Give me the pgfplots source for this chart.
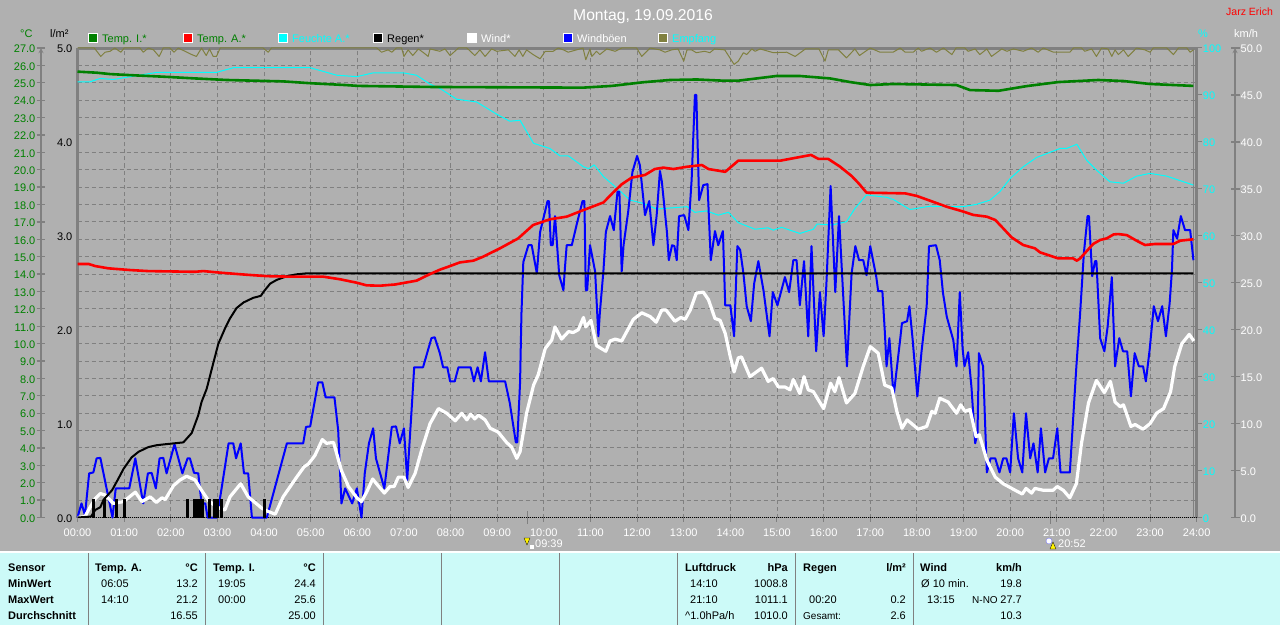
\documentclass[border=0pt]{standalone}
\usepackage{fontspec}
\setmainfont{Liberation Sans}
\usepackage{pgfplots}
\pgfplotsset{compat=1.18}

\definecolor{bg}{RGB}{176,176,176}
\definecolor{panel}{RGB}{204,250,248}
\definecolor{gridc}{RGB}{128,128,128}
\definecolor{tempi}{RGB}{0,128,0}
\definecolor{empf}{RGB}{128,128,64}
\definecolor{feuchte}{RGB}{0,255,255}

\newcommand{\fs}{\fontsize{11}{13}\selectfont}
\pgfplotsset{
  plotbox/.style={at={(77.5pt,107.5pt)},anchor=south west,scale only axis,
    width=1119.2pt,height=469.5pt,xmin=0,xmax=24,clip=false},
  series/.style={plotbox,hide axis},
  scalebar/.style={at={(#1pt,107.5pt)},anchor=south west,scale only axis,
    width=1pt,height=469.5pt,xmin=0,xmax=1,hide x axis,clip=false,
    axis line style={draw=gridc,line width=1.3pt},
    tick style={draw=gridc,line width=1.3pt},
    tick align=center,major tick length=9pt,minor tick length=0pt,
    /pgf/number format/assume math mode=true,
    /pgf/number format/fixed,/pgf/number format/fixed zerofill,/pgf/number format/precision=1,
    tick label style={font=\fs,inner sep=0pt}},
}

% px scope: origin top left of the image, y down
\newcommand{\tl}[4][black]{\node[anchor=mid west,inner sep=0pt,yshift=-1.5pt,text=#1,font=\fs] at (#2,#3) {#4};}
\newcommand{\tr}[4][black]{\node[anchor=mid east,inner sep=0pt,yshift=-1.5pt,text=#1,font=\fs] at (#2,#3) {#4};}
\newcommand{\bl}[3]{\node[anchor=mid west,inner sep=0pt,yshift=-1.5pt,font=\fs\bfseries] at (#1,#2) {#3};}
\newcommand{\br}[3]{\node[anchor=mid east,inner sep=0pt,yshift=-1.5pt,font=\fs\bfseries] at (#1,#2) {#3};}
\newcommand{\leg}[4]{\fill[#3,draw=white,line width=1pt] (#1,33.5) rectangle (#1+9,42.5);
  \node[anchor=mid west,inner sep=0pt,yshift=-1.5pt,text=#4,font=\fs] at (#1+14,38) {#2};}

\begin{document}
\begin{tikzpicture}
\path[use as bounding box,fill=bg] (0,0) rectangle (1280pt,625pt);

% grid, hour axis
\begin{axis}[plotbox,ymin=0,ymax=27,
  axis line style={draw=none},
  ytick={0,1,...,27},yticklabels={},
  ytick style={draw=none},
  xtick pos=bottom,
  xtick={0,1,...,24},
  xticklabels={00:00,01:00,02:00,03:00,04:00,05:00,06:00,07:00,08:00,09:00,10:00,11:00,12:00,13:00,14:00,15:00,16:00,17:00,18:00,19:00,20:00,21:00,22:00,23:00,24:00},
  xticklabel style={font=\fs,text=white,inner sep=0pt,yshift=-7pt},
  xtick style={draw=gridc,line width=1pt},
  major tick length=4pt,tick align=outside,
  grid=major,
  grid style={draw=gridc,line width=.9pt,dash pattern=on 4pt off 3pt},
  extra x ticks={9.65,20.87},extra x tick labels={},
  extra x tick style={grid=none,tick align=center,major tick length=13pt,
    tick style={draw=gridc,line width=2pt}},
]
\draw[gridc,line width=3pt] (rel axis cs:0,0) -- (rel axis cs:0,1);
\draw[gridc,line width=3pt] (rel axis cs:0,1) -- (rel axis cs:1,1);
\draw[gridc,line width=3pt] (rel axis cs:1,0) -- (rel axis cs:1,1);
\draw[gridc,line width=1pt] (rel axis cs:0.9972,0) -- (rel axis cs:0.9972,1);
\draw[black,line width=1pt,dash pattern=on 1pt off 1pt] (rel axis cs:0,0) -- (rel axis cs:1,0);
\end{axis}

% Empfang, Feuchte on the % scale
\begin{axis}[series,ymin=0,ymax=100]
\addplot[empf,line width=1pt,line join=round] coordinates {
(0,100)(.36,100)(.5,98.2)(.59,99.1)(.7,99.3)(.8,100)(.93,99.1)(1,100)(1.34,100)(1.41,99.1)(1.52,100)(1.63,99.6)(1.75,98.2)(1.84,100)
(1.98,100)(2.07,99.1)(2.16,100)(2.45,98.6)(2.55,98.2)(2.66,100)(2.76,98.4)(2.83,99.8)(2.91,98.2)(2.98,98.2)(3.06,100)(3.98,100)(4.09,99.1)(4.16,100)
(6.42,100)(6.52,99.1)(6.66,99.6)(6.74,99.1)(6.84,100)(6.95,100)(7,98.2)(7.09,99.6)(7.19,98.4)(7.31,99.8)(7.42,99)(7.52,98.2)
(7.56,99.8)(7.77,99.3)(7.88,99.8)(7.99,98.4)(8.17,100)(8.35,100)(8.52,98.4)(8.63,99.6)(8.74,98.2)(8.88,99.8)(8.99,99.3)(9.24,99.6)(9.38,98.2)(9.47,99.6)(9.55,98.2)(9.63,99.6)(9.77,98.6)(9.92,97.7)
(10.03,99.3)(10.2,99.3)(10.31,100)(10.42,99.6)(10.52,99.1)(10.7,99.6)(10.84,100)(10.9,97.5)(10.99,99.8)(11.03,98.2)(11.13,99.3)(11.2,98.6)(11.35,99.8)(11.53,99.3)(11.67,100)(11.99,100)
(12.1,98.2)(12.28,100)(12.49,99.6)(12.6,99.1)(12.74,99.6)(12.88,99.8)(13,97.2)(13.07,99.6)(13.17,99.6)(13.27,99)(13.45,99.3)(13.56,99)(13.66,99.8)(13.88,99.6)(14.08,96.5)(14.17,97.2)(14.28,99)(14.35,98.6)(14.46,99.8)(14.53,99.3)(14.64,99.8)
(14.92,99)(15.21,99.1)(15.39,98.2)(15.61,99.8)(15.9,99.8)(16.03,97.2)(16.1,99.6)(16.32,99.6)(16.49,97.9)(16.67,99.8)(16.77,98.4)
(17,100)(17.21,99.1)(17.49,99.1)(17.64,100)(17.75,99.1)(17.92,99.1)(18.03,100)(18.1,99.3)(18.28,100)(18.42,99.1)(18.57,100)(18.75,98.6)(18.84,100)(19.03,100)(19.1,99.3)(19.25,99.8)(19.35,98.6)(19.5,99.8)(19.6,98.2)(19.82,99.8)(19.93,99.3)
(20.07,99.8)(20.28,99.3)(20.46,100)(20.6,99.1)(20.71,100)(20.93,99.1)(21.28,99.1)(21.36,100)(21.53,100)(21.6,99.3)(21.75,99.8)(21.85,98.2)(21.96,100)(22.1,99.8)(22.18,98.2)(22.25,99.6)(22.32,98.6)(22.43,99.6)(22.53,98.2)(22.71,100)(22.89,99.6)(23,99.1)(23.07,100)(23.36,100)(23.5,98.6)(23.61,100)(23.79,100)(23.86,99.1)(23.93,99.6)
};
\addplot[feuchte,line width=1pt,line join=round] coordinates {
(0,92.8)(.27,92.8)(.48,93.5)(.77,93.3)(1.2,94)(1.7,94.8)(2.98,94.8)(3.34,95.8)(4.99,95.8)(5.56,94.2)(5.99,93.9)(6.34,94.7)(6.99,94.7)(7.27,94.2)(7.56,92.3)(7.77,91.4)
(8.13,89.1)(8.56,88.5)(8.99,85.9)(9.27,84.4)(9.49,84.6)(9.78,79.7)(10.13,78.6)(10.35,77)(10.53,77)(10.85,74.7)(10.96,74.3)(11.08,75.1)(11.28,72.6)(11.57,70.1)(11.85,67.6)
(12.13,66.9)(12.42,65.7)(13.07,66.2)(13.24,65)(13.49,65.3)(13.74,64.4)(13.96,65)(14.17,62.8)(14.53,61.4)(14.81,61.7)(14.92,61.2)(15.1,61.8)(15.49,60.5)(15.78,61.4)(15.86,62.5)(16.17,62.3)(16.49,63)(16.67,65.8)(16.92,68.7)
(17.35,68.2)(17.5,67.7)(17.85,65.6)(18.28,66.3)(18.99,66.2)(19.28,66.7)(19.57,67.6)(19.78,69.4)(20,72.2)(20.28,74.7)(20.57,76.7)(21.07,78.6)(21.21,78.6)(21.43,79.5)(21.64,76.1)(21.85,74)(22.14,71.5)(22.43,71.2)(22.71,72.7)(23,73.3)(23.36,72.7)(23.93,70.8)
};
\end{axis}

% Windböen, Wind on the km/h scale
\begin{axis}[series,ymin=0,ymax=50]
\addplot[blue,line width=2pt,line join=round] coordinates {
(0,0)(.086,1.5)(.16,.25)(.25,4.7)(.34,4.8)(.41,6.3)(.49,6.35)(.75,0)(.82,3.1)(1.11,3.1)(1.24,6.3)(1.41,1.5)(1.51,4.7)(1.59,4.75)(1.68,3.1)(1.76,6.3)(1.84,6.35)(1.91,4.7)
(2.08,7.8)(2.25,4.7)(2.36,6.3)(2.41,6.3)(2.5,4.75)(2.59,4.7)(2.66,1.5)(2.74,1.5)(2.79,0)(2.99,0)(3.09,3.1)(3.24,7.9)(3.34,7.9)(3.4,6.3)(3.5,7.9)(3.57,4.7)(3.66,4.7)(3.74,0)(4.06,0)
(4.49,7.9)(4.84,7.9)(4.9,9.65)(4.99,9.7)(5.16,14.4)(5.25,14.4)(5.32,12.8)(5.51,12.8)(5.59,9.3)(5.66,1.5)(5.74,3.1)(5.89,1.5)(5.99,3.1)(6.09,0)(6.16,4.7)(6.25,7.9)(6.34,9.5)(6.4,6.3)(6.58,3.1)(6.74,9.65)(6.83,9.7)(6.91,7.9)
(7,9.5)(7.07,4)(7.16,11.1)(7.22,16)(7.41,16)(7.59,19.1)(7.66,19.2)(7.77,17.5)(7.84,16)(7.93,16)(7.99,14.5)(8.09,14.5)(8.17,16)(8.43,16)(8.5,14.5)(8.58,16)(8.65,14.5)(8.74,17.6)(8.82,14.5)
(9.17,14.5)(9.27,12.2)(9.4,8)(9.43,8)(9.49,14.3)(9.52,21.7)(9.56,27.2)(9.67,29)(9.74,29)(9.85,26)(9.92,30.4)(10.08,33.7)(10.11,33.7)(10.15,29)(10.19,29)(10.24,32.1)(10.33,25.8)(10.42,24.2)(10.45,26.4)(10.49,29)
(10.6,29)(10.7,31.1)(10.83,33.7)(10.87,33.7)(10.9,24.2)(10.93,24.2)(10.99,29)(11.03,28)(11.1,26.2)(11.17,19.3)(11.2,21.7)(11.28,26.4)(11.33,30.4)(11.42,32.1)(11.5,30.6)(11.58,34.7)(11.62,34.7)(11.67,26.2)(11.71,29)(11.81,32.6)(11.9,36.8)
(12,38.5)(12.06,37.5)(12.17,32.2)(12.26,33.7)(12.35,29)(12.42,32.2)(12.49,36.9)(12.53,35.8)(12.64,30.4)(12.68,27.4)(12.75,29)(12.8,28.9)(12.85,27.4)(12.9,32.1)(13.01,32.2)(13.1,30.6)(13.17,36)(13.24,45)(13.27,45)(13.33,33.8)(13.42,35.4)(13.51,35.5)(13.58,27.4)(13.67,30.5)(13.74,29)(13.84,30.5)(13.89,22.6)
(14,22.6)(14.08,19.3)(14.15,28.9)(14.21,28.5)(14.28,26)(14.35,22.5)(14.44,20.9)(14.51,24.9)(14.6,27.3)(14.71,24.2)(14.84,19.3)(14.91,24)(15.01,22.6)(15.17,25.6)(15.26,24)(15.35,27.4)(15.42,27.4)(15.49,22.6)(15.58,27.3)(15.67,19.3)(15.74,28.9)(15.84,17.7)(15.92,24)
(16,19.3)(16.06,24.9)(16.15,35.3)(16.25,24)(16.33,32.1)(16.5,16.1)(16.6,26)(16.68,28.9)(16.76,27.4)(16.85,27.4)(16.92,25.8)(17,28.9)(17.13,25.6)(17.17,24.1)(17.26,24.1)(17.31,20)(17.35,16.1)(17.41,19.1)(17.5,12.9)(17.64,18.9)(17.68,20.7)(17.79,20.9)(17.84,22.5)(17.91,18.9)
(18.01,12.9)(18.1,17.7)(18.21,22.5)(18.26,28.9)(18.41,29)(18.49,27.4)(18.56,23.9)(18.64,21.4)(18.78,18.9)(18.85,16.1)(18.92,24)(18.98,18)(19.02,16.1)(19.1,17.6)(19.17,13.9)(19.25,7.9)(19.3,9)(19.33,17.5)(19.42,16.1)(19.5,4.8)
(19.58,6.3)(19.68,6.3)(19.77,4.8)(19.85,6.3)(19.92,6.3)(20,4.8)(20.08,11.1)(20.17,6.3)(20.26,4.8)(20.34,11.1)(20.43,6.3)(20.5,7.9)(20.59,4.8)(20.66,9.5)(20.75,4.8)(20.83,6.3)(20.92,6.3)(21.01,9.5)(21.08,4.8)(21.28,4.8)(21.42,16.1)(21.5,21.7)(21.58,28.1)
(21.66,32.1)(21.69,32.1)(21.76,25.7)(21.82,27.3)(21.85,27.3)(21.89,23.2)(21.93,19.1)(22.02,17.7)(22.09,20.3)(22.18,25.6)(22.25,16.1)(22.34,19.1)(22.42,17.7)(22.51,17.7)(22.59,12.9)(22.67,17.5)(22.76,16.1)(22.85,16.1)(22.91,14.5)(22.99,17.8)
(23.08,22.5)(23.17,20.9)(23.26,22.5)(23.34,19.3)(23.42,22.8)(23.47,26.4)(23.5,30.6)(23.58,29.7)(23.66,32.1)(23.75,30.6)(23.86,30.6)(23.93,27.4)
};
\addplot[white,line width=3.2pt,line join=round] coordinates {
(0,0)(.16,.1)(.27,1.1)(.38,2)(.49,2.55)(.59,2.4)(.77,1.5)(.99,1.7)(1.24,2.7)(1.38,1.7)(1.56,2.2)(1.69,1.6)(1.81,2.1)(1.88,1.9)(2.06,3.4)(2.2,4)(2.34,4.4)(2.52,4)(2.66,2.9)(2.81,1.8)(2.99,1.1)(3.16,.8)(3.27,2.2)(3.5,3.6)(3.66,2.2)(3.95,1)
(4.06,.7)(4.24,.35)(4.41,2.2)(4.7,4.3)(4.86,5.4)(4.95,5.7)(5.09,6.6)(5.25,8.3)(5.34,7.9)(5.49,8)(5.66,5)(5.81,3.3)(5.99,2.1)(6.09,1.7)(6.2,2.7)(6.33,4.1)(6.41,3.6)(6.58,2.6)(6.7,3.3)(6.79,3.3)(6.88,4.3)(7,4.3)(7.09,3.2)(7.24,4.7)(7.38,7.2)(7.56,10)(7.74,11.6)
(7.92,11.1)(8.1,10.3)(8.24,11.1)(8.35,10.4)(8.43,11)(8.52,10.5)(8.6,10.9)(8.74,10.4)(8.85,9.5)(9.02,9.1)(9.2,8)(9.31,7.5)(9.42,6.3)(9.49,7)(9.63,11.1)(9.78,14.1)(9.88,15.2)(10.03,18)(10.17,18.9)(10.24,20.3)(10.38,19)(10.53,19.8)(10.63,19.7)(10.74,20)(10.85,21.3)(10.9,20.3)
(11.01,21)(11.13,18.3)(11.33,17.7)(11.42,18.8)(11.53,19)(11.67,18.8)(11.92,21.1)(12.1,21.8)(12.28,21.4)(12.41,20.8)(12.53,22.1)(12.62,22.1)(12.81,20.9)(12.94,21.3)(13.03,21.1)(13.14,22.1)(13.27,23.9)(13.42,24)(13.53,23.2)(13.67,21.2)(13.78,21)(13.89,19.6)(14,17.1)(14.08,15.5)
(14.17,17)(14.24,17.1)(14.42,15)(14.53,15.4)(14.67,15.9)(14.81,14.5)(14.92,14.8)(15.03,13.9)(15.17,13.9)(15.28,13.6)(15.35,14.7)(15.49,13.2)(15.58,15)(15.67,13.6)(15.78,13.4)(16,11.6)(16.15,14.3)(16.24,13.4)(16.33,14.9)(16.49,12.2)(16.67,13.2)(16.85,16.1)
(17,18.2)(17.17,17.5)(17.31,14.1)(17.46,13.8)(17.57,11.3)(17.68,9.5)(17.79,10.4)(17.96,9.7)(18.03,9.4)(18.21,9.7)(18.32,11.3)(18.39,11.1)(18.49,12.7)(18.67,12.3)(18.85,11.1)(18.94,12)(19.03,11.3)(19.14,11.5)(19.18,10.6)(19.27,8.6)(19.34,8.8)(19.5,6.1)(19.68,4.3)(19.85,3.6)
(20.07,3)(20.26,2.5)(20.34,3.1)(20.46,2.6)(20.53,3.1)(20.71,2.9)(20.92,2.9)(21.01,3.3)(21.14,2.9)(21.28,2.1)(21.42,3.6)(21.53,7.9)(21.68,12.2)(21.85,14.6)(22.02,13.3)(22.15,14.5)(22.25,12.3)(22.36,11.8)(22.43,12)(22.59,9.7)(22.68,9.9)(22.85,9.4)
(23,10)(23.14,11.1)(23.29,11.6)(23.44,13.4)(23.53,16.1)(23.68,18.5)(23.84,19.5)(23.94,18.8)
};
\end{axis}

% Regen on the l/m2 scale, with its tick labels at the plot's left edge
\begin{axis}[plotbox,ymin=0,ymax=5,
  axis x line=none,axis y line=left,
  axis line style={draw=none,-},
  ytick={0,1,...,5},ytick style={draw=none},major tick length=0pt,
  /pgf/number format/assume math mode=true,
  /pgf/number format/fixed,/pgf/number format/fixed zerofill,/pgf/number format/precision=1,
  yticklabel style={font=\fs,text=black,inner sep=0pt,xshift=-5pt,yshift=-1pt},
]
\addplot[black,line width=2pt,line join=round] coordinates {
(0,0)(.29,.01)(.38,.08)(.49,.11)(.56,.19)(.74,.29)(.84,.38)(.99,.52)(1.16,.64)(1.31,.7)(1.52,.75)(1.7,.77)(1.88,.78)(2.27,.8)(2.45,.9)(2.59,1.09)(2.66,1.23)(2.77,1.37)(2.91,1.64)(3.02,1.85)(3.16,2.01)(3.27,2.12)(3.41,2.23)(3.56,2.29)(3.77,2.34)(3.93,2.36)(4,2.41)(4.13,2.49)(4.27,2.53)(4.49,2.57)(4.7,2.59)(4.91,2.6)(23.93,2.6)
};
\addplot[ycomb,black,line width=3pt] coordinates {
(.34,.2)(.58,.2)(.84,.2)(1.01,.2)(2.36,.2)(2.51,.2)(2.58,.2)(2.62,.2)(2.67,.2)(2.83,.2)(2.93,.2)(3,.2)(3.09,.2)(4.01,.2)
};
\end{axis}

% Temp. A. and Temp. I. on the deg C scale
\begin{axis}[series,ymin=0,ymax=27]
\addplot[red,line width=2.6pt,line join=round] coordinates {
(0,14.58)(.24,14.58)(.38,14.46)(.66,14.33)(1.13,14.23)(1.52,14.17)(2.52,14.13)(2.7,14.17)(3.06,14.08)(3.63,13.96)(4.06,13.88)(4.56,13.85)(5.27,13.85)(5.63,13.7)(5.99,13.5)(6.2,13.35)(6.49,13.33)(6.81,13.4)(7.27,13.62)(7.56,14)(7.77,14.25)
(7.99,14.46)(8.2,14.67)(8.49,14.77)(8.7,15)(9.06,15.48)(9.45,16.05)(9.77,16.82)(10.13,17.15)(10.49,17.3)(10.85,17.68)(11.28,18.12)(11.49,18.7)(11.67,19.16)(11.88,19.54)(12.17,19.7)(12.38,20.04)(12.56,20.12)(12.78,20.04)(13.07,20.17)(13.39,20.27)(13.53,20.04)(13.89,19.88)
(14.17,20.52)(14.64,20.52)(15.07,20.52)(15.53,20.75)(15.73,20.85)(15.89,20.62)(16.1,20.62)(16.35,20.18)(16.6,19.64)(16.75,19.22)(16.92,18.68)(17.75,18.64)(18,18.49)(18.28,18.22)(18.64,17.87)(19,17.59)(19.21,17.4)(19.5,17.3)(19.68,17.11)(19.85,16.63)
(20.03,16.11)(20.28,15.67)(20.53,15.48)(20.64,15.25)(20.85,15.06)(21.03,14.9)(21.35,14.9)(21.43,14.77)(21.5,14.9)(21.78,15.73)(21.93,15.96)(22.07,16.05)(22.22,16.28)(22.32,16.3)(22.5,16.24)(22.71,15.92)(22.89,15.67)(23.11,15.73)(23.5,15.73)(23.65,15.92)(23.93,16)
};
\addplot[tempi,line width=2.6pt,line join=round] coordinates {
(0,25.64)(.41,25.58)(.7,25.5)(1.2,25.43)(1.84,25.35)(2.52,25.25)(3.2,25.16)(4.41,25.08)(5.02,24.97)(5.74,24.87)(6.02,24.82)(7.56,24.76)(10.84,24.72)(11.46,24.82)(12.13,25.03)(12.7,25.16)(13.28,25.19)(13.85,25.12)(14.17,25.12)(14.99,25.39)(15.49,25.39)(16.14,25.25)(16.57,25.04)
(17,24.87)(17.49,24.93)(18.85,24.87)(19.14,24.58)(19.75,24.54)(20.36,24.81)(21.03,25.04)(21.89,25.16)(22.43,25.1)(23,24.93)(23.93,24.82)
};
\end{axis}

% outer scales
\begin{axis}[scalebar=41,ymin=0,ymax=27,axis y line=left,axis x line=none,
  ytick={0,1,...,27},yticklabel style={text=tempi,xshift=-1pt,yshift=-1pt}]
\end{axis}
\begin{axis}[scalebar=1234,ymin=0,ymax=50,axis y line=right,axis x line=none,
  ytick={0,5,...,50},yticklabel style={text=white,xshift=1pt,yshift=-1pt}]
\end{axis}
\begin{axis}[plotbox,ymin=0,ymax=100,axis y line=right,axis x line=none,
  axis line style={draw=none,-},
  ytick={0,10,...,100},major tick length=5pt,tick align=outside,
  ytick style={draw=gridc,line width=1pt},
  /pgf/number format/assume math mode=true,
  yticklabel style={font=\fs,text=feuchte,inner sep=0pt,xshift=1pt,yshift=-1pt}]
\end{axis}

\begin{scope}[x=1pt,y=-1pt,yshift=625pt]
% head
\node[anchor=mid,inner sep=0pt,text=white,font=\fontsize{15.7}{18}\selectfont] at (643,18) {Montag, 19.09.2016};
\node[anchor=mid west,inner sep=0pt,text=red,font=\fontsize{10.5}{12}\selectfont] at (1226,13) {Jarz Erich};
\tl[tempi]{20}{33}{°C}
\tl{50}{33}{l/m²}
\tl[feuchte]{1198}{33}{\%}
\tl[white]{1234}{33}{km/h}
% legend
\leg{88}{Temp. I.*}{tempi}{tempi}
\leg{183}{Temp. A.*}{red}{tempi}
\leg{278}{Feuchte A.*}{feuchte}{feuchte}
\leg{373}{Regen*}{black}{black}
\leg{467}{Wind*}{white}{white}
\leg{563}{Windböen}{blue}{white}
\leg{658}{Empfang}{empf}{feuchte}
% sunrise and sunset flags
\tl[white]{535}{543}{09:39}
\fill[yellow,draw=black,line width=.3pt] (524,538) -- (530,538) -- (527,545) -- cycle;
\fill[white] (530,545) rectangle (534,549);
\tl[white]{1058}{543}{20:52}
\fill[white,draw=blue!60,line width=.3pt] (1049,541) circle (3);
\fill[yellow,draw=black,line width=.3pt] (1050,549) -- (1056,549) -- (1053,542) -- cycle;
% table
\fill[white] (0,551) rectangle (1280,553);
\fill[panel] (0,552.5) rectangle (1280,625);
\foreach \s in {88,205,323,441,559,677,795,913} \draw[gray,line width=1pt] (\s,553) -- (\s,625);
\bl{8}{567}{Sensor}
\bl{8}{583}{MinWert}
\bl{8}{599}{MaxWert}
\bl{8}{615}{Durchschnitt}
\bl{95}{567}{Temp. A.}
\br{198}{567}{°C}
\tl{101}{583}{06:05}
\tr{198}{583}{13.2}
\tl{101}{599}{14:10}
\tr{198}{599}{21.2}
\tr{198}{615}{16.55}
\bl{213}{567}{Temp. I.}
\br{316}{567}{°C}
\tl{218}{583}{19:05}
\tr{316}{583}{24.4}
\tl{218}{599}{00:00}
\tr{316}{599}{25.6}
\tr{316}{615}{25.00}
\bl{685}{567}{Luftdruck}
\br{788}{567}{hPa}
\tl{690}{583}{14:10}
\tr{788}{583}{1008.8}
\tl{690}{599}{21:10}
\tr{788}{599}{1011.1}
\tl{685}{615}{\char`\^1.0hPa/h}
\tr{788}{615}{1010.0}
\bl{803}{567}{Regen}
\br{906}{567}{l/m²}
\tl{809}{599}{00:20}
\tr{906}{599}{0.2}
\node[anchor=mid west,inner sep=0pt,yshift=-1.5pt,font=\fontsize{10}{12}\selectfont] at (803,615) {Gesamt:};
\tr{906}{615}{2.6}
\bl{920}{567}{Wind}
\br{1022}{567}{km/h}
\node[anchor=mid west,inner sep=0pt,yshift=-1.5pt,font=\fs] at (921,583) {Ø 10 min.};
\tr{1022}{583}{19.8}
\tl{927}{599}{13:15}
\node[anchor=mid west,inner sep=0pt,yshift=-1.5pt,font=\fontsize{10}{12}\selectfont] at (972,599) {N-NO};
\tr{1022}{599}{27.7}
\tr{1022}{615}{10.3}
\end{scope}
\end{tikzpicture}
\end{document}
